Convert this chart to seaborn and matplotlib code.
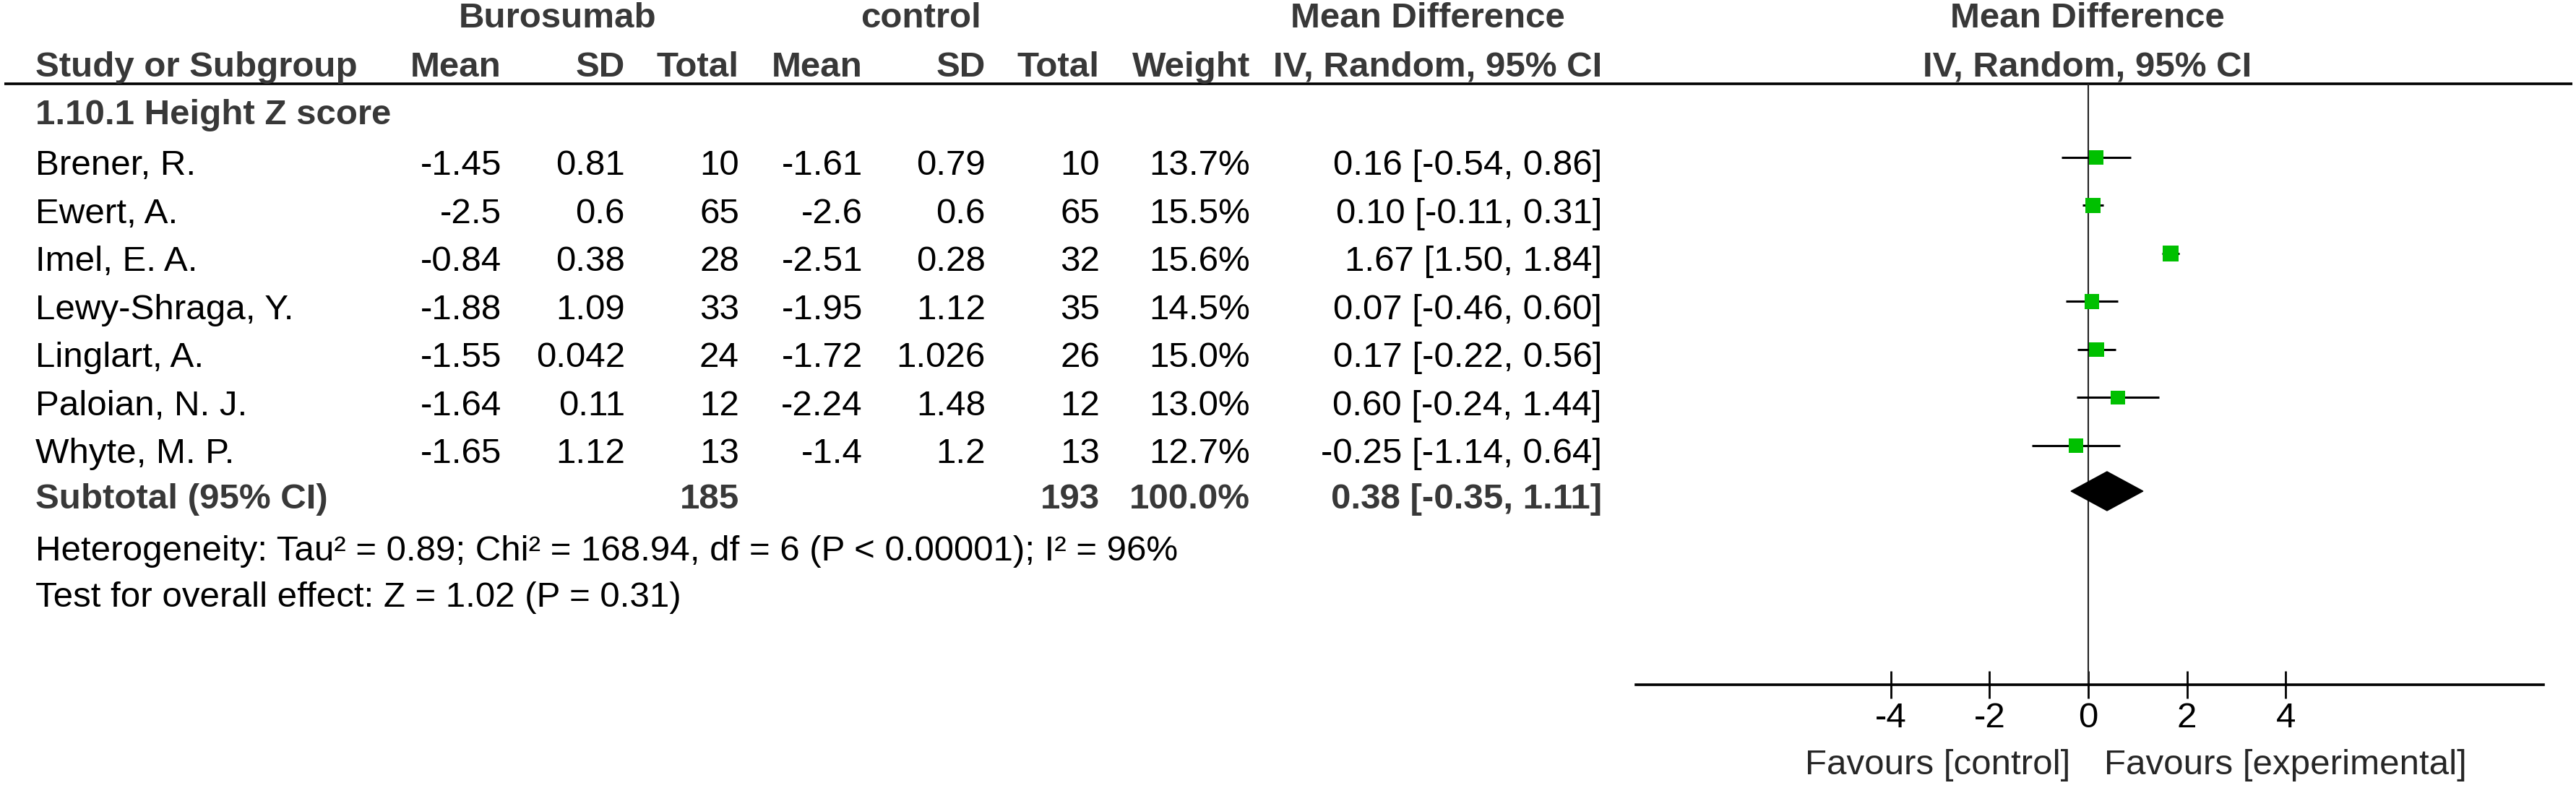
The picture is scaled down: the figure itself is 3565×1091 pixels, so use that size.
import matplotlib
matplotlib.use('Agg')
import matplotlib.pyplot as plt
import seaborn as sns
import pandas as pd

# data
studies = ['Brener, R.', 'Ewert, A.', 'Imel, E. A.', 'Lewy-Shraga, Y.',
           'Linglart, A.', 'Paloian, N. J.', 'Whyte, M. P.']
buro_mean = [-1.45, -2.5, -0.84, -1.88, -1.55, -1.64, -1.65]
buro_sd = [0.81, 0.6, 0.38, 1.09, 0.042, 0.11, 1.12]
buro_n = [10, 65, 28, 33, 24, 12, 13]
ctrl_mean = [-1.61, -2.6, -2.51, -1.95, -1.72, -2.24, -1.4]
ctrl_sd = [0.79, 0.6, 0.28, 1.12, 1.026, 1.48, 1.2]
ctrl_n = [10, 65, 32, 35, 26, 12, 13]
weight = [13.7, 15.5, 15.6, 14.5, 15.0, 13.0, 12.7]
md = [0.16, 0.10, 1.67, 0.07, 0.17, 0.60, -0.25]
ci_lo = [-0.54, -0.11, 1.50, -0.46, -0.22, -0.24, -1.14]
ci_hi = [0.86, 0.31, 1.84, 0.60, 0.56, 1.44, 0.64]

subgroup = '1.10.1 Height Z score'
sub_buro_n, sub_ctrl_n, sub_weight = 185, 193, 100.0
sub_md, sub_lo, sub_hi = 0.38, -0.35, 1.11
heterogeneity = 'Heterogeneity: Tau\u00b2 = 0.89; Chi\u00b2 = 168.94, df = 6 (P < 0.00001); I\u00b2 = 96%'
overall = 'Test for overall effect: Z = 1.02 (P = 0.31)'
xticks = [-4, -2, 0, 2, 4]

sns.set_style('white')
plt.rcParams['font.family'] = ['Liberation Sans', 'DejaVu Sans']

W, H, DPI = 3566, 1091, 100
FS = 35.5
BOLD = '#383838'
fig = plt.figure(figsize=(W / DPI, H / DPI), dpi=DPI)

ROW0, STEP = 218, 66.5


def ry(px):
    return (px - ROW0) / STEP


tab = fig.add_axes([0, 0, 1, 1])
tab.set_xlim(0, W)
tab.set_ylim(ry(H), ry(0))
tab.axis('off')


def put(x, y, s, ha='right', bold=False):
    tab.text(x, y, s, ha=ha, va='center', fontsize=FS,
             fontweight='bold' if bold else 'normal',
             color=BOLD if bold else 'black')


# headers
hy1, hy2 = ry(26), ry(93)
put(772, hy1, 'Burosumab', 'center', True)
put(1275, hy1, 'control', 'center', True)
put(1976, hy1, 'Mean Difference', 'center', True)
put(2889, hy1, 'Mean Difference', 'center', True)
put(49, hy2, 'Study or Subgroup', 'left', True)
for x, s in [(694, 'Mean'), (865, 'SD'), (1023, 'Total'),
             (1194, 'Mean'), (1364, 'SD'), (1522, 'Total'),
             (1730, 'Weight'), (2217, 'IV, Random, 95% CI')]:
    put(x, hy2, s, 'right', True)
put(2889, hy2, 'IV, Random, 95% CI', 'center', True)
tab.hlines(ry(116), 6, 3560, color='black', lw=2.6)

put(49, ry(160), subgroup, 'left', True)

off = 0.18
for i, name in enumerate(studies):
    y = i + off
    put(49, y, name, 'left')
    put(694, y, str(buro_mean[i]))
    put(865, y, str(buro_sd[i]))
    put(1023, y, str(buro_n[i]))
    put(1194, y, str(ctrl_mean[i]))
    put(1364, y, str(ctrl_sd[i]))
    put(1522, y, str(ctrl_n[i]))
    put(1730, y, f'{weight[i]:.1f}%')
    put(2217, y, f'{md[i]:.2f} [{ci_lo[i]:.2f}, {ci_hi[i]:.2f}]')

ys = ry(692)
put(49, ys, 'Subtotal (95% CI)', 'left', True)
put(1023, ys, str(sub_buro_n), bold=True)
put(1522, ys, str(sub_ctrl_n), bold=True)
put(1730, ys, f'{sub_weight:.1f}%', bold=True)
put(2217, ys, f'{sub_md:.2f} [{sub_lo:.2f}, {sub_hi:.2f}]', bold=True)
put(49, ry(764), heterogeneity, 'left')
put(49, ry(828), overall, 'left')

# forest panel
fx0, fx1, fy0, fy1 = 2264, 3520, 116, 948
zero_px, unit_px = 2890, 68.3
ax = fig.add_axes([fx0 / W, 1 - fy1 / H, (fx1 - fx0) / W, (fy1 - fy0) / H])
ax.set_facecolor('none')
ax.set_xlim((fx0 - zero_px) / unit_px, (fx1 - zero_px) / unit_px)
ax.set_ylim(ry(fy1), ry(fy0))

ax.axvline(0, color='#222222', lw=1.5, zorder=1)
rows = list(range(len(studies)))
ax.hlines(rows, ci_lo, ci_hi, color='black', lw=2.2, zorder=2)
df = pd.DataFrame({'md': md, 'row': rows, 'weight': weight})
sns.scatterplot(data=df, x='md', y='row', size='weight', marker='s',
                sizes=(15 * min(weight), 15 * max(weight)),
                size_norm=(min(weight), max(weight)),
                color='#00c000', edgecolor='none', linewidth=0,
                legend=False, ax=ax, zorder=3)
dy = ry(680)
hh = 27 / STEP
ax.fill([sub_lo, sub_md, sub_hi, sub_md], [dy, dy - hh, dy, dy + hh],
        color='black', zorder=3)

for side in ['top', 'left', 'right']:
    ax.spines[side].set_visible(False)
ax.spines['bottom'].set_linewidth(2.6)
ax.spines['bottom'].set_color('black')
ax.set_yticks([])
ax.set_xticks(xticks)
ax.set_xticklabels([str(t) for t in xticks])
ax.tick_params(axis='x', direction='inout', length=27, width=2,
               labelsize=FS, pad=4, colors='black', bottom=True)
ax.set_xlabel('')
ax.set_ylabel('')

fy = ry(1059)
tab.text(2865, fy, 'Favours [control]', ha='right', va='center', fontsize=FS)
tab.text(2912, fy, 'Favours [experimental]', ha='left', va='center', fontsize=FS)

fig.savefig('out.png', dpi=DPI)
